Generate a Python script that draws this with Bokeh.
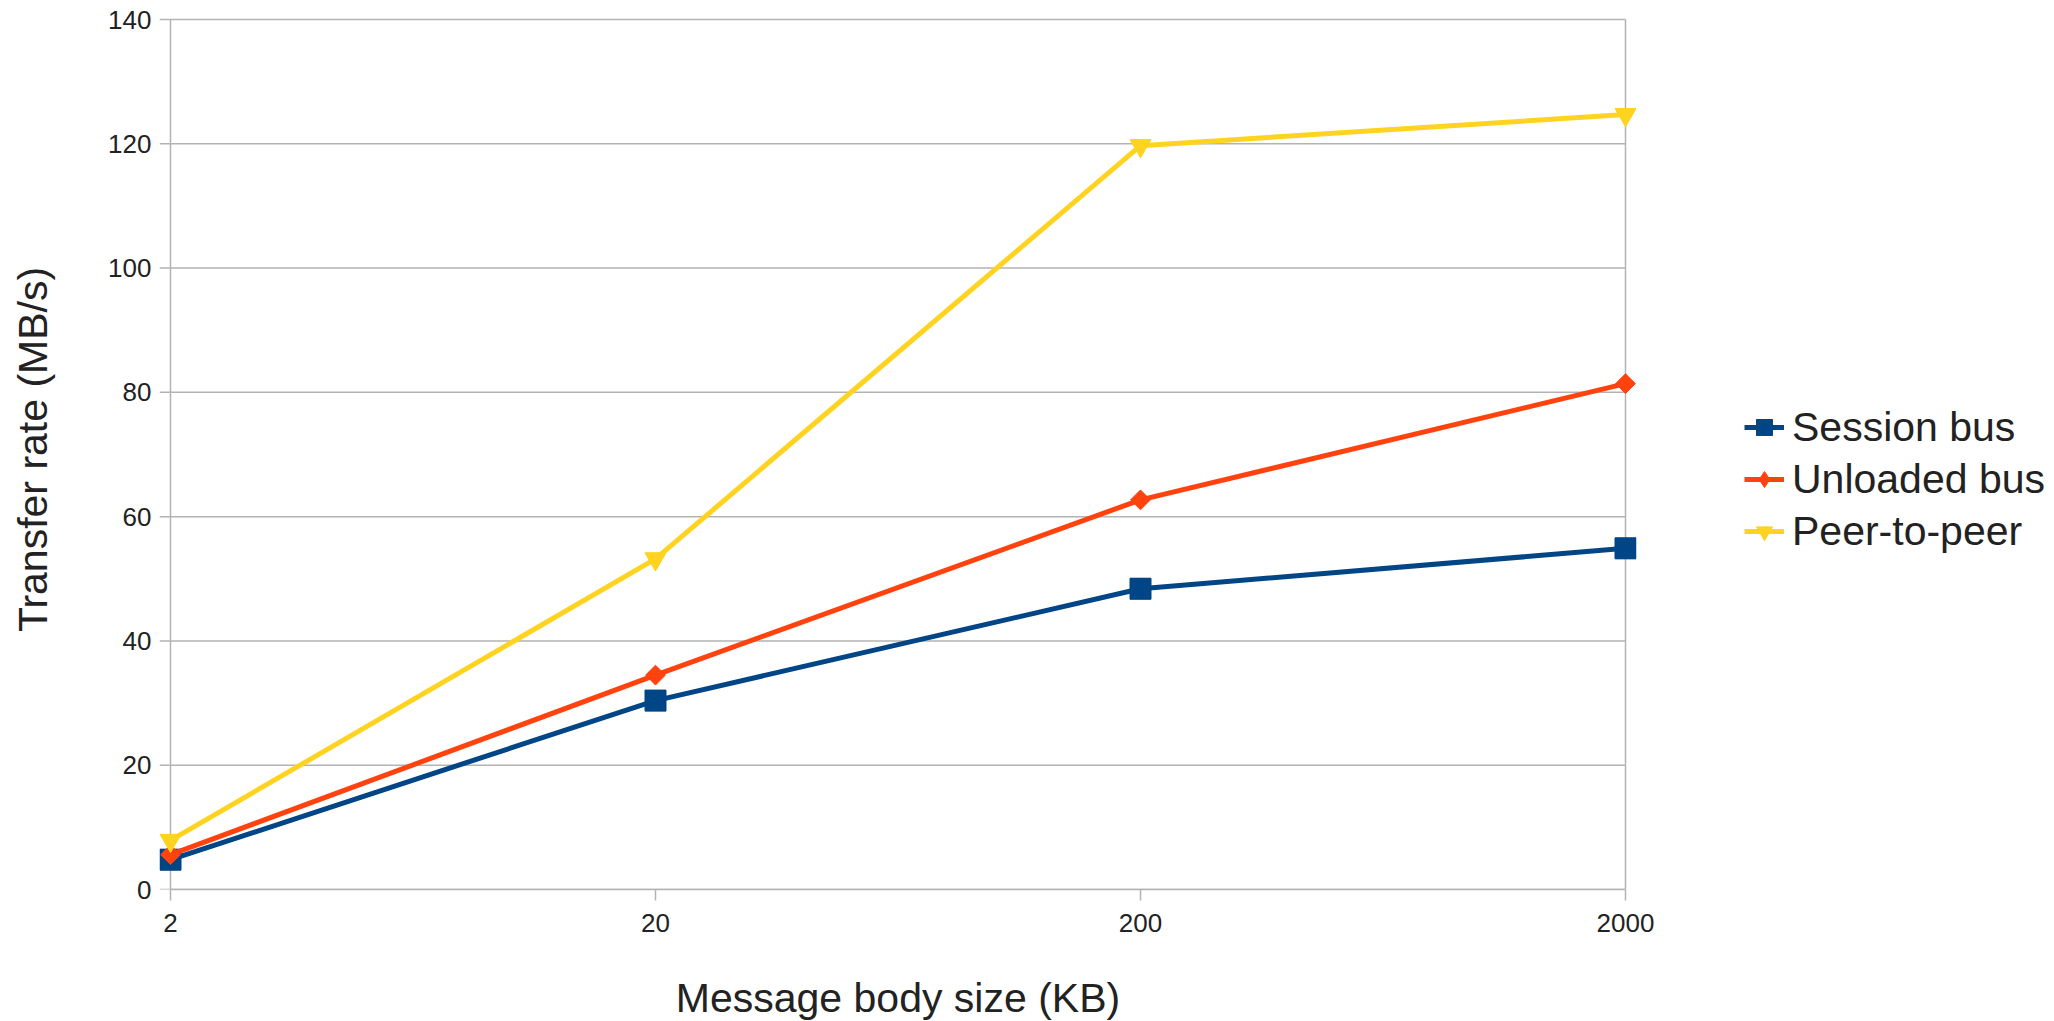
import numpy as np
from bokeh.plotting import figure
from bokeh.models import (Range1d, FixedTicker, NumeralTickFormatter, Legend, LegendItem)
from bokeh.embed import file_html
from bokeh.resources import INLINE

# ---- data ----
sizes_kb = [2, 20, 200, 2000]
session_bus = [4.8, 30.4, 48.4, 54.9]
unloaded_bus = [5.6, 34.5, 62.7, 81.4]
peer_to_peer = [7.9, 53.2, 119.7, 124.7]
y_ticks = [0, 20, 40, 60, 80, 100, 120, 140]

series_names = ["Session bus", "Unloaded bus", "Peer-to-peer"]
series_values = [session_bus, unloaded_bus, peer_to_peer]
colors = ["#004586", "#ff420e", "#ffd320"]

FONT = "Liberation Sans"
TXT = "#222222"
GRID = "#b3b3b3"

# ---- geometry (pixels) ----
PX_PER_DECADE = 485.0
PAD_X = 11.0
PX_PER_UNIT = 870.0 / 140.0
PAD_TOP = 10.0
n_dec = np.log10(sizes_kb[-1] / sizes_kb[0])
frame_w = int(round(PX_PER_DECADE * n_dec + 2 * PAD_X))
frame_h = int(round(PX_PER_UNIT * (y_ticks[-1] - y_ticks[0]) + PAD_TOP))
x_start = sizes_kb[0] * 10 ** (-PAD_X / PX_PER_DECADE)
x_end = sizes_kb[-1] * 10 ** (PAD_X / PX_PER_DECADE)
y_end = y_ticks[-1] + PAD_TOP / PX_PER_UNIT

p = figure(frame_width=frame_w, frame_height=frame_h,
           x_axis_type="log",
           x_range=Range1d(x_start, x_end),
           y_range=Range1d(y_ticks[0], y_end),
           output_backend="svg", toolbar_location=None,
           min_border_left=159, min_border_right=414,
           min_border_top=9, min_border_bottom=120,
           background_fill_color="white", border_fill_color="white")

p.outline_line_color = None

# axes
p.xaxis.ticker = FixedTicker(ticks=sizes_kb)
p.xaxis.formatter = NumeralTickFormatter(format="0")
p.xaxis.bounds = (sizes_kb[0], sizes_kb[-1])
p.yaxis.ticker = FixedTicker(ticks=y_ticks)
for ax in (p.xaxis[0], p.yaxis[0]):
    ax.axis_line_color = GRID
    ax.axis_line_width = 1.5
    ax.major_tick_line_color = GRID
    ax.major_tick_line_width = 1.5
    ax.major_tick_out = 11
    ax.major_tick_in = 0
    ax.minor_tick_line_color = None
    ax.major_label_text_font = FONT
    ax.major_label_text_font_size = "26px"
    ax.major_label_text_color = TXT
    ax.axis_label_text_font = FONT
    ax.axis_label_text_font_size = "41px"
    ax.axis_label_text_font_style = "normal"
    ax.axis_label_text_color = TXT

# y axis sits at the frame's left edge; its visible line / ticks are drawn below
p.yaxis.axis_line_color = None
p.yaxis.major_tick_line_color = None
p.yaxis.major_tick_out = 0

p.xaxis.axis_label = "Message body size (KB)"
p.yaxis.axis_label = "Transfer rate (MB/s)"
p.xaxis.major_label_standoff = 13
p.xaxis.axis_label_standoff = 40
p.yaxis.major_label_standoff = 8
p.yaxis.axis_label_standoff = 49

p.xgrid.grid_line_color = None
p.ygrid.grid_line_color = None

# horizontal grid lines (extending left over the tick marks), axis line at first category,
# right border at last category
p.segment(x0=[x_start] * len(y_ticks), x1=[sizes_kb[-1]] * len(y_ticks),
          y0=y_ticks, y1=y_ticks, line_color=GRID, line_width=1.5)
p.segment(x0=[sizes_kb[0], sizes_kb[-1]], x1=[sizes_kb[0], sizes_kb[-1]],
          y0=[y_ticks[0]] * 2, y1=[y_ticks[-1]] * 2,
          line_color=GRID, line_width=1.5)

markers = ["square", "square", "inverted_triangle"]
legend_markers = ["square", "diamond", "inverted_triangle"]
angles = [0, np.pi / 4, 0]
msizes = [21, 14, 21]
key_sizes = [20, 18, 20]

items = []
for name, vals, c, m, lm, a, s, ks in zip(series_names, series_values, colors, markers,
                                           legend_markers, angles, msizes, key_sizes):
    ln = p.line(sizes_kb, vals, line_color=c, line_width=5)
    # legend key marker (hidden underneath the plotted marker)
    key = p.scatter(sizes_kb, vals, marker=lm, size=ks, fill_color=c, line_color=c)
    p.scatter(sizes_kb, vals, marker=m, angle=a, size=s,
              fill_color=c, line_color=c)
    items.append(LegendItem(label=name, renderers=[ln, key]))

legend = Legend(items=items, location=(108, 334),
                label_text_font=FONT, label_text_font_size="41px",
                label_text_color=TXT, glyph_width=40, glyph_height=48,
                label_height=48, spacing=4, label_standoff=8,
                padding=0, margin=0,
                border_line_alpha=0, background_fill_alpha=0)
p.add_layout(legend, "right")

open("out.html", "w").write(file_html(p, INLINE))
